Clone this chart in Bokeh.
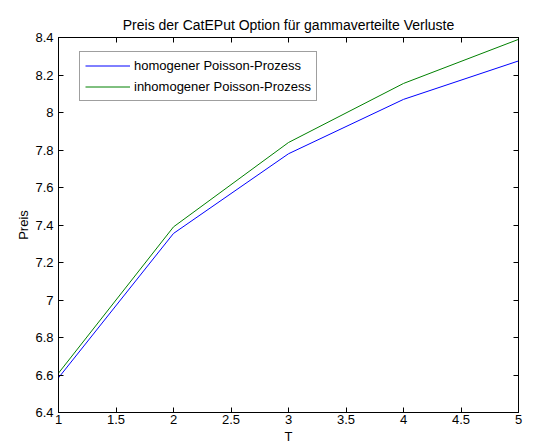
from bokeh.plotting import figure
from bokeh.models import Range1d, FixedTicker, LinearAxis, Legend, LegendItem
from bokeh.embed import file_html
from bokeh.resources import INLINE

T = [1, 2, 3, 4, 5]
homogen = [6.585, 7.355, 7.78, 8.07, 8.275]
inhomogen = [6.61, 7.39, 7.84, 8.155, 8.39]

x_ticks = [1, 1.5, 2, 2.5, 3, 3.5, 4, 4.5, 5]
x_tick_labels = ["1", "1.5", "2", "2.5", "3", "3.5", "4", "4.5", "5"]
y_ticks = [6.4, 6.6, 6.8, 7.0, 7.2, 7.4, 7.6, 7.8, 8.0, 8.2, 8.4]
y_tick_labels = ["6.4", "6.6", "6.8", "7", "7.2", "7.4", "7.6", "7.8", "8", "8.2", "8.4"]

title = "Preis der CatEPut Option für gammaverteilte Verluste"
x_label = "T"
y_label = "Preis"
series_names = ["homogener Poisson-Prozess", "inhomogener Poisson-Prozess"]

FONT = "Liberation Sans"

p = figure(width=539, height=446, output_backend="svg", toolbar_location=None,
           x_range=Range1d(1, 5), y_range=Range1d(6.4, 8.4),
           min_border_left=58, min_border_right=21, min_border_top=37, min_border_bottom=34,
           title=title)
p.background_fill_color = "white"
p.border_fill_color = "white"
p.outline_line_color = "black"
p.grid.visible = False

p.title.align = "center"
p.title.text_font = FONT
p.title.text_font_size = "14px"
p.title.text_font_style = "normal"
p.title.text_color = "black"

def style_axis(ax):
    ax.major_tick_in = 5
    ax.major_tick_out = 0
    ax.minor_tick_line_color = None
    ax.axis_line_color = "black"
    ax.major_tick_line_color = "black"
    ax.major_label_text_font = FONT
    ax.major_label_text_font_size = "13px"
    ax.major_label_text_color = "black"
    ax.axis_label_text_font = FONT
    ax.axis_label_text_font_size = "13px"
    ax.axis_label_text_font_style = "normal"
    ax.axis_label_text_color = "black"

xa = p.xaxis[0]
ya = p.yaxis[0]
style_axis(xa)
style_axis(ya)
xa.ticker = FixedTicker(ticks=x_ticks)
ya.ticker = FixedTicker(ticks=y_ticks)
xa.major_label_overrides = {t: l for t, l in zip(x_ticks, x_tick_labels)}
ya.major_label_overrides = {t: l for t, l in zip(y_ticks, y_tick_labels)}
xa.axis_label = x_label
ya.axis_label = y_label
xa.major_label_standoff = 2
xa.axis_label_standoff = 2
ya.major_label_standoff = 5
ya.axis_label_standoff = 1

top = LinearAxis(ticker=FixedTicker(ticks=x_ticks))
right = LinearAxis(ticker=FixedTicker(ticks=y_ticks))
for ax, ticks in ((top, x_ticks), (right, y_ticks)):
    style_axis(ax)
    ax.major_label_overrides = {t: "" for t in ticks}
    ax.major_label_standoff = 0
p.add_layout(top, "above")
p.add_layout(right, "right")

r1 = p.line(T, homogen, line_color="#0000ff", line_width=1)
r2 = p.line(T, inhomogen, line_color="#008000", line_width=1)

legend = Legend(items=[LegendItem(label=series_names[0], renderers=[r1]),
                       LegendItem(label=series_names[1], renderers=[r2])],
                location=(21, 311))
legend.margin = 0
legend.padding = 5
legend.spacing = 4
legend.label_height = 17
legend.glyph_height = 17
legend.glyph_width = 45
legend.label_standoff = 4
legend.label_text_font = FONT
legend.label_text_font_size = "13px"
legend.label_text_color = "black"
legend.border_line_color = "#404040"
legend.border_line_width = 1
legend.background_fill_color = "white"
p.add_layout(legend, "center")

open("out.html", "w").write(file_html(p, INLINE))
